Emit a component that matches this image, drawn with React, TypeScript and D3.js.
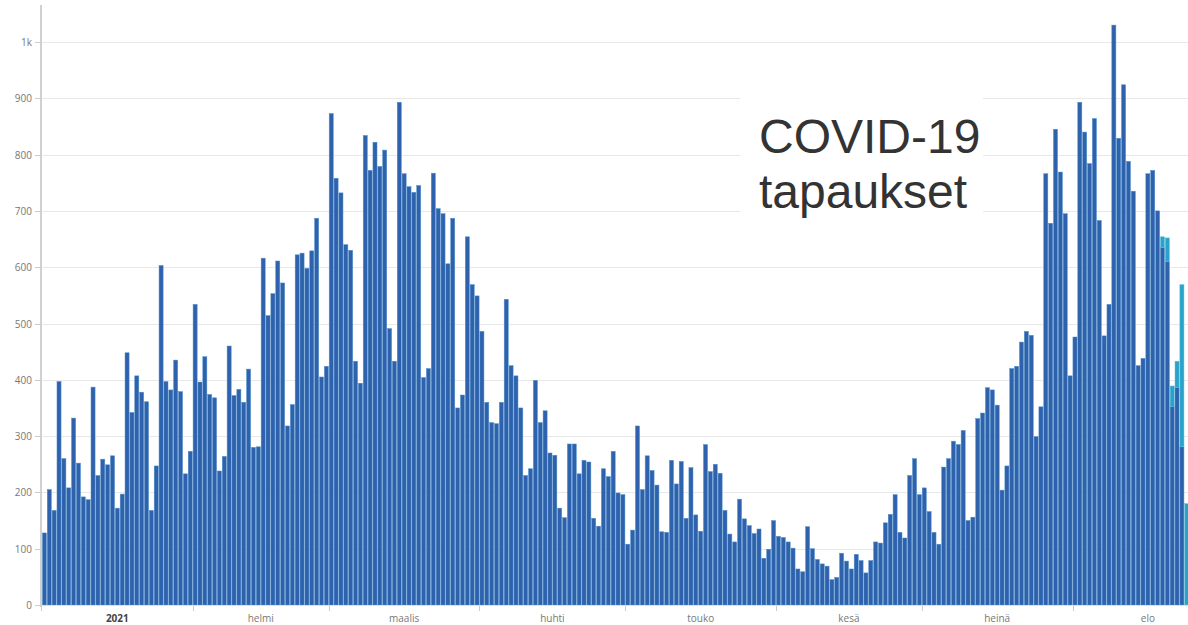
import React from 'react';
import * as d3 from 'd3';

// daily cases, Dec 31 2020 .. Aug 24 2021 (confirmed)
const dec = [255];
const jan = [128, 205, 168, 397, 260, 208, 332, 252, 192, 187, 387, 230, 259, 249, 265, 172, 197, 448, 342, 407, 378, 361, 168, 247, 603, 397, 382, 435, 379, 233, 273];
const feb = [534, 396, 441, 374, 368, 238, 264, 460, 372, 383, 360, 419, 280, 281, 616, 514, 553, 611, 572, 318, 356, 622, 625, 598, 629, 687, 405, 424];
const mar = [873, 758, 732, 640, 630, 433, 394, 834, 772, 822, 779, 808, 491, 433, 893, 766, 743, 733, 745, 404, 420, 767, 704, 695, 606, 687, 350, 373, 654, 569, 549];
const apr = [486, 360, 324, 322, 360, 543, 425, 407, 350, 230, 242, 399, 324, 345, 270, 266, 172, 155, 286, 286, 233, 257, 254, 154, 140, 242, 228, 273, 199, 196];
const may = [108, 133, 318, 205, 265, 239, 213, 130, 129, 257, 215, 255, 154, 244, 160, 131, 285, 237, 250, 234, 168, 126, 112, 188, 153, 141, 127, 135, 83, 99, 150];
const jun = [122, 120, 112, 101, 64, 59, 139, 100, 81, 73, 69, 45, 49, 92, 78, 64, 90, 79, 57, 79, 112, 110, 146, 161, 196, 129, 119, 230, 260, 196];
const jul = [208, 166, 129, 108, 245, 260, 291, 285, 310, 150, 156, 331, 341, 386, 382, 355, 204, 247, 420, 424, 467, 486, 479, 299, 352, 766, 678, 845, 769, 695, 407];
const aug = [476, 893, 840, 784, 864, 683, 478, 534, 1030, 829, 924, 788, 735, 425, 438, 766, 772, 700, 635, 610, 353, 386, 281, 0];
// extra (lighter) part on top for the latest days
const augExtra = [0, 0, 0, 0, 0, 0, 0, 0, 0, 0, 0, 0, 0, 0, 0, 0, 0, 0, 19, 42, 36, 47, 288, 180];

const monthLabels = ['2021', 'helmi', 'maalis', 'huhti', 'touko', 'kesä', 'heinä', 'elo'];
const yTicks = [0, 100, 200, 300, 400, 500, 600, 700, 800, 900, 1000];

const confirmed = [...dec, ...jan, ...feb, ...mar, ...apr, ...may, ...jun, ...jul, ...aug];
const extra = confirmed.map((_, i) => {
  const j = i - (confirmed.length - augExtra.length);
  return j >= 0 ? augExtra[j] : 0;
});
const start = new Date(Date.UTC(2020, 11, 31));
const rows = confirmed.map((v, i) => ({
  date: d3.utcDay.offset(start, i),
  confirmed: v,
  extra: extra[i],
}));

const W = 1188;
const H = 625;
const dayW = 4.861;
const x0 = 42;

export default function App() {
  const x = d3.scaleUtc()
    .domain([start, d3.utcDay.offset(start, rows.length)])
    .range([x0 - dayW, x0 - dayW + dayW * rows.length]);
  const y = d3.scaleLinear().domain([0, 1000]).range([605, 42]);

  const months = d3.utcMonth.range(new Date(Date.UTC(2021, 0, 1)), new Date(Date.UTC(2021, 8, 1)));
  const font = '"Open Sans", "Noto Sans", sans-serif';
  const titleFont = '"Liberation Sans", Arial, sans-serif';

  return (
    <svg width={W} height={H} style={{ position: 'fixed', left: 0, top: 0, background: '#fff' }}>
      <defs>
        <clipPath id="plot">
          <rect x={40} y={0} width={W - 40} height={606} />
        </clipPath>
      </defs>

      {/* grid */}
      {yTicks.slice(1).map(t => (
        <line key={t} x1={41} x2={W} y1={Math.round(y(t)) + 0.5} y2={Math.round(y(t)) + 0.5} stroke="#e8e8e8" />
      ))}

      {/* bars */}
      <g clipPath="url(#plot)">
        {rows.map((d, i) => {
          const bx = x(d.date) + 0.4;
          const bw = dayW - 0.8;
          return (
            <g key={i}>
              {d.confirmed > 0 && (
                <rect x={bx} y={y(d.confirmed)} width={bw} height={y(0) - y(d.confirmed)}
                  fill="#2f62ad" stroke="#4f8fcc" strokeWidth={0.5} />
              )}
              {d.extra > 0 && (
                <rect x={bx} y={y(d.confirmed + d.extra)} width={bw} height={y(d.confirmed) - y(d.confirmed + d.extra)}
                  fill="#2aa2c9" stroke="#5cc0de" strokeWidth={0.5} />
              )}
            </g>
          );
        })}
      </g>

      {/* title box */}
      <rect x={740} y={88} width={243} height={140} fill="#fff" />
      <text x={759} y={153} fontFamily={titleFont} fontSize={48} fill="#333">COVID-19</text>
      <text x={759} y={208} fontFamily={titleFont} fontSize={48} fill="#333">tapaukset</text>

      {/* y axis */}
      <line x1={41} x2={41} y1={5} y2={607} stroke="#d0d0d0" strokeWidth={2} />
      {yTicks.map(t => (
        <g key={t} transform={`translate(0,${Math.round(y(t)) + 0.5})`}>
          <line x1={35} x2={40} stroke="#ccc" />
          <text x={32} dy="0.35em" textAnchor="end" fontFamily={font} fontSize={10} fill="#777">
            {t === 1000 ? '1k' : t}
          </text>
        </g>
      ))}

      {/* x axis */}
      <line x1={41} x2={W} y1={605.5} y2={605.5} stroke="#e0e0e0" />
      <line x1={41.5} x2={41.5} y1={605} y2={611} stroke="#ccc" />
      {months.map((m, i) => {
        const mx = Math.round(x(m)) + 0.5;
        const next = d3.utcMonth.offset(m, 1);
        const cx = (x(m) + x(next)) / 2;
        return (
          <g key={i}>
            {i > 0 && <line x1={mx} x2={mx} y1={606} y2={611} stroke="#ccc" />}
            <text x={cx} y={622} textAnchor="middle" fontFamily={font} fontSize={10}
              fontWeight={i === 0 ? 'bold' : 'normal'} fill={i === 0 ? '#444' : '#777'}>
              {monthLabels[i]}
            </text>
          </g>
        );
      })}
    </svg>
  );
}
